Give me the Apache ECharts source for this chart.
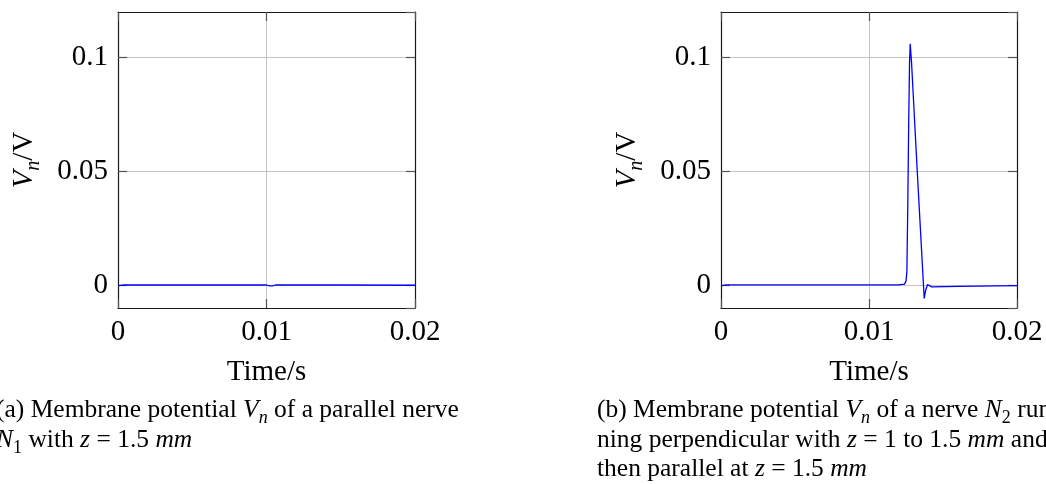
<!DOCTYPE html>
<html>
<head>
<meta charset="utf-8">
<script src="https://cdn.jsdelivr.net/npm/echarts@6/dist/echarts.min.js"></script>
<style>
  html, body { margin: 0; padding: 0; background: #fff; }
  #chart { width: 1046px; height: 484px; }
</style>
</head>
<body>
<div id="chart"></div>
<script>
// Membrane potential traces (time in s, potential in V)
const xTicks = [0, 0.01, 0.02];
const yTicks = [0, 0.05, 0.1];

// (a) parallel nerve N1
const timeA = [0, 0.0004, 0.005, 0.0100, 0.0102, 0.0104, 0.0106, 0.015, 0.02];
const valuesA = [-0.0002, 0.0001, 0.0001, 0.0001, -0.0003, -0.0003, 0.0001, 0.0001, 0.0];

// (b) nerve N2, perpendicular then parallel
const timeB = [0, 0.0003, 0.006, 0.0120, 0.01240, 0.01250, 0.01256, 0.01262, 0.01268, 0.01274, 0.012785, 0.01288, 0.01326, 0.01373, 0.01383, 0.01396, 0.01405, 0.01423, 0.016, 0.02];
const valuesB = [-0.0003, 0.0002, 0.0002, 0.0002, 0.0005, 0.0018, 0.006, 0.035, 0.07, 0.098, 0.106, 0.0972, 0.05, -0.0058, -0.0022, 0.0003, -0.0003, -0.0007, -0.0005, -0.0002];

const FONT = 'Liberation Serif';
const TICK_SIZE = 29;
const CAPTION_SIZE = 25.5;

const pairs = (xs, ys) => xs.map((x, i) => [x, ys[i]]);

const grids = [
  { left: 118, top: 12, width: 297, height: 296 },
  { left: 721, top: 12, width: 296, height: 296 }
];

const gridLine = { show: true, lineStyle: { color: '#c4c4c4', width: 1 } };
const frame = { show: true, onZero: false, lineStyle: { color: '#1a1a1a', width: 1.2 } };
const innerTick = { show: true, inside: true, length: 9, lineStyle: { color: '#555', width: 1.2 } };

function xAxes(gi) {
  return [
    {
      type: 'value', gridIndex: gi, position: 'bottom',
      min: 0, max: 0.02, interval: 0.01,
      axisLine: frame, axisTick: innerTick, splitLine: gridLine,
      axisLabel: { color: '#000', fontFamily: FONT, fontSize: TICK_SIZE, margin: 10 },
      name: 'Time/s', nameLocation: 'middle', nameGap: 50,
      nameTextStyle: { color: '#000', fontFamily: FONT, fontSize: TICK_SIZE }
    },
    {
      type: 'value', gridIndex: gi, position: 'top',
      min: 0, max: 0.02, interval: 0.01,
      axisLine: frame, axisTick: innerTick, splitLine: { show: false },
      axisLabel: { show: false }
    }
  ];
}

function yAxes(gi) {
  return [
    {
      type: 'value', gridIndex: gi, position: 'left',
      min: -0.01, max: 0.12, splitNumber: 2,
      axisLine: frame, axisTick: innerTick, splitLine: gridLine,
      axisLabel: {
        color: '#000', fontFamily: FONT, fontSize: TICK_SIZE, margin: 10,
        showMinLabel: false, showMaxLabel: false,
        formatter: v => (yTicks.some(t => Math.abs(t - v) < 1e-9) ? String(+v.toFixed(4)) : '')
      },
      name: '{v|V}{s|n}{u|/V}', nameLocation: 'middle', nameGap: 74,
      nameTextStyle: {
        color: '#000', fontFamily: FONT, fontSize: TICK_SIZE,
        rich: {
          v: { fontFamily: FONT, fontSize: TICK_SIZE, fontStyle: 'italic', lineHeight: 34, verticalAlign: 'top' },
          s: { fontFamily: FONT, fontSize: 20, fontStyle: 'italic', lineHeight: 34, verticalAlign: 'bottom' },
          u: { fontFamily: FONT, fontSize: TICK_SIZE, lineHeight: 34, verticalAlign: 'top' }
        }
      }
    },
    {
      type: 'value', gridIndex: gi, position: 'right',
      min: -0.01, max: 0.12, splitNumber: 2,
      axisLine: frame, axisTick: innerTick, splitLine: { show: false },
      axisLabel: { show: false }
    }
  ];
}

// Caption lines with italic math and subscripts
const capRich = {
  r: { fontFamily: FONT, fontSize: CAPTION_SIZE, lineHeight: 30, verticalAlign: 'top', fill: '#000' },
  i: { fontFamily: FONT, fontSize: CAPTION_SIZE, fontStyle: 'italic', lineHeight: 30, verticalAlign: 'top', fill: '#000' },
  s: { fontFamily: FONT, fontSize: 18, lineHeight: 30, verticalAlign: 'bottom', fill: '#000' },
  si: { fontFamily: FONT, fontSize: 18, fontStyle: 'italic', lineHeight: 30, verticalAlign: 'bottom', fill: '#000' }
};
function caption(x, y, text) {
  return {
    type: 'text', left: x, top: y,
    style: { text: text, rich: capRich, font: CAPTION_SIZE + 'px "' + FONT + '"', fill: '#000' }
  };
}

const chart = echarts.init(document.getElementById('chart'));
chart.setOption({
  animation: false,
  backgroundColor: '#fff',
  grid: grids,
  xAxis: [...xAxes(0), ...xAxes(1)],
  yAxis: [...yAxes(0), ...yAxes(1)],
  series: [
    {
      type: 'line', xAxisIndex: 0, yAxisIndex: 0, data: pairs(timeA, valuesA),
      showSymbol: false, lineStyle: { color: '#0000ff', width: 1.3 }
    },
    {
      type: 'line', xAxisIndex: 2, yAxisIndex: 2, data: pairs(timeB, valuesB),
      showSymbol: false, lineStyle: { color: '#0000ff', width: 1.3 }
    }
  ],
  graphic: [
    caption(-4, 397, '{r|(a) Membrane potential }{i|V}{si|n}{r| of a parallel nerve}'),
    caption(-4, 427, '{i|N}{s|1}{r| with }{i|z}{r| = 1.5 }{i|mm}'),
    caption(597, 397, '{r|(b) Membrane potential }{i|V}{si|n}{r| of a nerve }{i|N}{s|2}{r| run-}'),
    caption(597, 427, '{r|ning perpendicular with }{i|z}{r| = 1 to 1.5 }{i|mm}{r| and}'),
    caption(597, 456, '{r|then parallel at }{i|z}{r| = 1.5 }{i|mm}')
  ]
});
</script>
</body>
</html>
